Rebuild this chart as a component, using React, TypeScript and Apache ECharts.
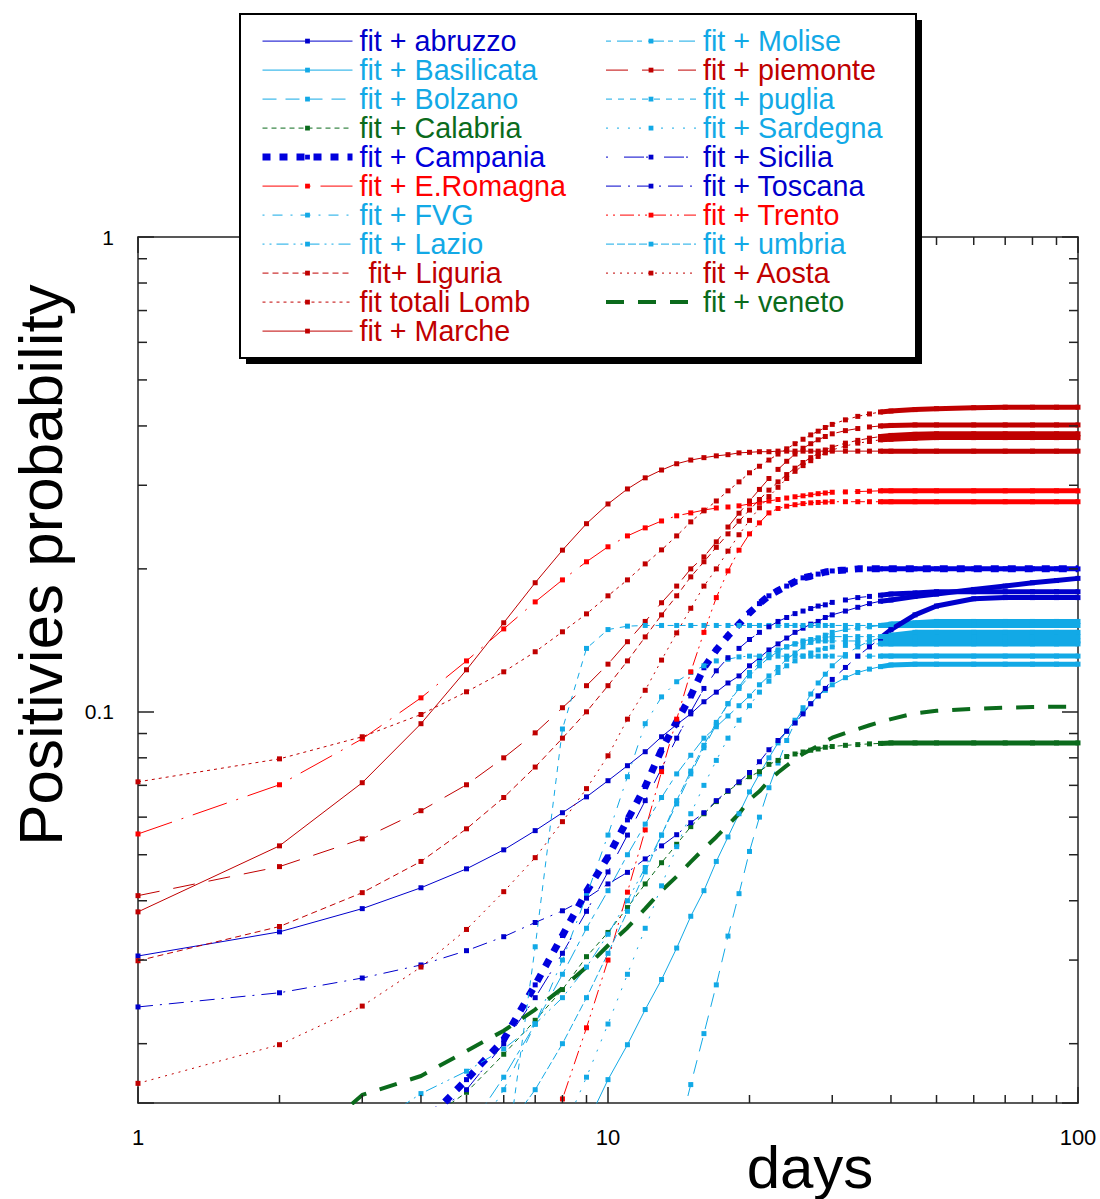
import React, { useEffect, useRef } from "react";
import * as echarts from "echarts";

// ---------------- data ----------------
const DAYS = [1, 2, 3, 4, 5, 6, 7, 8, 9, 10, 11, 12, 13, 14, 15, 16, 17, 18, 19, 20, 21, 22, 23, 24, 25, 26, 27, 28, 29, 30, 32, 34, 36, 38, 40, 45, 50, 60, 70, 80, 90, 100];
const N = null;

const ABRUZZO = [.0306, .0344, .0385, .0426, .0467, .0512, .0562, .0613, .0662, .0716,
  .077, .0824, .0886, .094, .099, .105, .110, .115, .119, .125,
  .130, .135, .139, .143, .147, .150, .153, .155, .158, .160,
  .163, .166, .169, .171, .172, .175, .177, .181, .184, .187, .189, .191];
const BASILICATA = [N, N, N, N, N, N, N, N, .0135, .0168,
  .0199, .0236, .0273, .0318, .0371, .042, .0484, .0545, .061, .0678,
  .074, .080, .086, .091, .096, .100, .104, .108, .111, .114,
  .118, .121, .123, .1245, .1255, .126, .126, .126, .126, .126, .126, .126];
const BOLZANO = [N, N, N, N, N, N, N, N, N, N,
  N, N, N, .0125, .0164, .021, .0266, .0337, .0414, .0508,
  .060, .0692, .078, .087, .095, .102, .109, .115, .120, .125,
  .132, .137, .141, .143, .145, .147, .147, .147, .147, .147, .147, .147];
const CALABRIA = [N, N, N, .0135, .0158, .019, .0224, .026, .0305, .0343,
  .0387, .0434, .0481, .0526, .0573, .061, .0647, .068, .0709, .073,
  .0748, .0775, .079, .0805, .0815, .0823, .083, .0835, .0842, .0845,
  .085, .0853, .0856, .0858, .086, .086, .086, .086, .086, .086, .086, .086];
const CAMPANIA = [N, N, N, .0134, .0168, .0204, .0266, .0338, .0418, .0495,
  .0592, .0696, .0832, .0953, .108, .1238, .135, .1445, .153, .1616,
  .169, .1755, .180, .184, .188, .1915, .193, .195, .197, .198,
  .199, .2, .2, .2, .2, .2, .2, .2, .2, .2, .2, .2];
const EROMAGNA = [.0553, .0702, .0877, .107, .128, .1495, .1704, .1896, .207, .2226,
  .2347, .244, .2523, .2587, .2624, .266, .2687, .27, .2715, .274,
  .276, .278, .28, .282, .2837, .285, .2865, .288, .289, .29,
  .2905, .291, .2915, .292, .292, .292, .292, .292, .292, .292, .292, .292];
const FVG = [N, N, N, N, .012, .016, .022, .030, .041, .055,
  .073, .0944, .1075, .1157, .121, .125, .128, .129, .1305, .131,
  .131, .131, .131, .131, .131, .131, .131, .131, .131, .131,
  .131, .131, .131, .131, .131, .131, .131, .131, .131, .131, .131, .131];
const LAZIO = [N, N, .013, .0157, .0175, .0195, .022, .025, .029, .034,
  .040, .047, .055, .064, .074, .084, .094, .104, .113, .121,
  .127, .132, .135, .137, .139, .140, .1405, .141, .141, .141,
  .141, .141, .141, .141, .141, .141, .141, .141, .141, .141, .141, .141];
const LIGURIA = [.0299, .0353, .0416, .0484, .0567, .066, .0765, .088, .100, .1135,
  .128, .1438, .160, .1755, .1924, .207, .222, .237, .252, .266,
  .280, .293, .305, .316, .326, .335, .343, .350, .356, .361,
  .368, .373, .377, .380, .382, .384, .385, .385, .385, .385, .385, .385];
const LOMB = [.0712, .0796, .0886, .0987, .1102, .1214, .1338, .1474, .1608, .1755,
  .1896, .2049, .2193, .2347, .2512, .265, .278, .292, .305, .3187,
  .329, .339, .349, .358, .367, .375, .383, .390, .397, .403,
  .412, .419, .424, .428, .430, .433, .435, .437, .438, .438, .438, .438];
const MARCHE = [.0379, .0522, .0709, .0944, .1226, .154, .187, .219, .249, .274,
  .2947, .311, .323, .333, .339, .343, .346, .348, .351, .352,
  .353, .353, .354, .354, .354, .354, .354, .354, .354, .354,
  .354, .354, .354, .354, .354, .354, .354, .354, .354, .354, .354, .354];
const MOLISE = [N, N, N, N, .013, .017, .022, .028, .035, .042,
  .050, .058, .066, .074, .081, .088, .093, .098, .103, .108,
  .114, .119, .124, .129, .133, .137, .140, .143, .145, .147,
  .149, .150, .151, .152, .153, .154, .155, .155, .155, .155, .155, .155];
const PIEMONTE = [.041, .0472, .054, .0619, .0702, .080, .0903, .102, .1135, .126,
  .1405, .155, .1697, .184, .200, .212, .228, .245, .262, .278,
  .294, .310, .324, .337, .349, .359, .367, .374, .380, .385,
  .391, .395, .398, .400, .401, .402, .402, .402, .402, .402, .402, .402];
const PUGLIA = [N, N, N, N, N, .0105, .032, .092, .136, .149,
  .1515, .152, .152, .152, .152, .152, .152, .152, .152, .152,
  .152, .152, .152, .152, .152, .152, .152, .152, .152, .152,
  .152, .152, .152, .152, .152, .152, .152, .152, .152, .152, .152, .152];
const SARDEGNA = [N, N, N, N, N, N, N, .013, .017, .022,
  .028, .035, .043, .052, .061, .070, .079, .088, .096, .103,
  .110, .116, .121, .125, .128, .131, .133, .135, .136, .137,
  .138, .139, .139, .139, .139, .139, .139, .139, .139, .139, .139, .139];
const SICILIA = [N, N, N, .0135, .016, .020, .025, .031, .038, .046,
  .055, .065, .076, .088, .100, .112, .122, .130, .136, .142,
  .147, .151, .155, .158, .161, .163, .165, .167, .168, .170,
  .172, .174, .175, .176, .177, .178, .179, .179, .179, .179, .179, .179];
const TOSCANA = [.0239, .0256, .0275, .0293, .0314, .0336, .036, .0381, .0405, .0434,
  .0459, .049, .0522, .0551, .0584, .0613, .065, .0682, .0712, .0745,
  .0785, .0832, .087, .091, .0947, .099, .104, .108, .112, .117,
  .124, .131, .137, .143, .149, .160, .167, .173, .174, .174, .174, .174];
const TRENTO = [N, N, N, N, N, N, .011, .0153, .0216, .030,
  .0417, .0564, .0748, .0965, .1214, .147, .174, .198, .219, .237,
  .250, .2624, .268, .271, .273, .2745, .2755, .276, .2765, .277,
  .277, .277, .277, .277, .277, .277, .277, .277, .277, .277, .277, .277];
const UMBRIA = [N, N, N, N, N, .013, .016, .020, .025, .031,
  .038, .046, .055, .065, .075, .085, .095, .104, .112, .119,
  .125, .130, .134, .137, .139, .141, .142, .143, .1435, .144,
  .144, .144, .144, .144, .144, .144, .144, .144, .144, .144, .144, .144];
const AOSTA = [.0165, .0199, .024, .029, .0348, .0418, .0493, .0587, .0689, .0808,
  .0965, .111, .1285, .1466, .1652, .184, .200, .218, .236, .253,
  .269, .284, .297, .310, .321, .330, .338, .345, .351, .356,
  .363, .368, .371, .374, .375, .377, .378, .378, .378, .378, .378, .378];
const VENETO = [N, .011, .0156, .0171, .0193, .0213, .0236, .0262, .029, .0322,
  .0351, .0385, .042, .045, .0483, .0515, .0545, .0578, .061, .0653,
  .068, .0716, .0745, .077, .0795, .0816, .0832, .0848, .0866, .0882,
  .0902, .092, .0937, .0952, .0965, .0993, .1005, .1015, .102, .1023, .1025, .1025];

const X_MINOR_TICKS = [2, 3, 4, 5, 6, 7, 8, 9, 20, 30, 40, 50, 60, 70, 80, 90];
const Y_MINOR_TICKS = [0.02, 0.03, 0.04, 0.05, 0.06, 0.07, 0.08, 0.09, 0.2, 0.3, 0.4, 0.5, 0.6, 0.7, 0.8, 0.9];
const Y_LABELS = ["1", "0.1"];

// ---------------- styles ----------------
const FONT = '"Liberation Sans", Arial, Helvetica, sans-serif';
const AXIS_COLOR = "#222";
const BLUE = "#0000cc";
const LBLUE = "#12a9e6";
const DRED = "#c00000";
const RED = "#ff0000";
const GREEN = "#0b6b1c";
const X_MIN = 1, X_MAX = 100, Y_MIN = 0.015, Y_MAX = 1;
const DENSE_FROM = 38;
const MINOR_LEN = 8;

type Def = { name: string; color: string; dash: any; width?: number; values: (number | null)[]; col: number; indent?: number; noMarker?: boolean };

const DEFS: Def[] = [
  { name: "fit + abruzzo", color: BLUE, dash: "solid", values: ABRUZZO, col: 0 },
  { name: "fit + Basilicata", color: LBLUE, dash: "solid", values: BASILICATA, col: 0 },
  { name: "fit + Bolzano", color: LBLUE, dash: [14, 9], values: BOLZANO, col: 0 },
  { name: "fit + Calabria", color: GREEN, dash: [5, 4], values: CALABRIA, col: 0 },
  { name: "fit + Campania", color: "#0000dd", dash: [8, 9], width: 7, values: CAMPANIA, col: 0 },
  { name: "fit + E.Romagna", color: RED, dash: [36, 10, 2, 10], values: EROMAGNA, col: 0 },
  { name: "fit + FVG", color: LBLUE, dash: [2, 8, 10, 8], values: FVG, col: 0 },
  { name: "fit + Lazio", color: LBLUE, dash: [2, 5, 2, 5, 12, 5], values: LAZIO, col: 0 },
  { name: "fit+ Liguria", color: DRED, dash: [6, 4], values: LIGURIA, col: 0, indent: 9 },
  { name: "fit totali Lomb", color: DRED, dash: [3, 4], values: LOMB, col: 0 },
  { name: "fit + Marche", color: DRED, dash: "solid", values: MARCHE, col: 0 },
  { name: "fit + Molise", color: LBLUE, dash: [5, 6, 16, 4], values: MOLISE, col: 1 },
  { name: "fit + piemonte", color: DRED, dash: [22, 14], values: PIEMONTE, col: 1 },
  { name: "fit + puglia", color: LBLUE, dash: [6, 6], values: PUGLIA, col: 1 },
  { name: "fit + Sardegna", color: LBLUE, dash: [2, 9], values: SARDEGNA, col: 1 },
  { name: "fit + Sicilia", color: BLUE, dash: [2, 16, 20, 2], values: SICILIA, col: 1 },
  { name: "fit + Toscana", color: BLUE, dash: [15, 7, 2, 7], values: TOSCANA, col: 1 },
  { name: "fit + Trento", color: RED, dash: [2, 5, 2, 5, 14, 4], values: TRENTO, col: 1 },
  { name: "fit + umbria", color: LBLUE, dash: [8, 3], values: UMBRIA, col: 1 },
  { name: "fit + Aosta", color: DRED, dash: [2, 5], values: AOSTA, col: 1 },
  { name: "fit + veneto", color: GREEN, dash: [18, 14], width: 4, values: VENETO, col: 1, noMarker: true },
];

function buildOption(): any {
  const series: any[] = [];
  DEFS.forEach((d) => {
    series.push({
      type: "line",
      name: d.name,
      xAxisIndex: 0,
      yAxisIndex: 0,
      data: DAYS.map((day, i) => [day, d.values[i]]),
      symbol: d.noMarker ? "none" : "rect",
      symbolSize: 5,
      showSymbol: !d.noMarker,
      connectNulls: false,
      clip: true,
      silent: true,
      z: 2,
      lineStyle: { color: d.color, width: d.width ?? 1, type: d.dash },
      itemStyle: { color: d.color },
      emphasis: { disabled: true },
    });
    if (!d.noMarker) {
      series.push({
        type: "line",
        name: d.name + " dense",
        xAxisIndex: 0,
        yAxisIndex: 0,
        data: DAYS.map((day, i) => [day, day >= DENSE_FROM ? d.values[i] : null]),
        symbol: "none",
        showSymbol: false,
        clip: true,
        silent: true,
        z: 2,
        lineStyle: { color: d.color, width: 5 },
        emphasis: { disabled: true },
      });
    }
  });

  const tickStyle = { stroke: AXIS_COLOR, lineWidth: 1.5 };
  series.push({
    type: "custom",
    name: "xminor",
    xAxisIndex: 0,
    yAxisIndex: 0,
    silent: true,
    z: 3,
    data: X_MINOR_TICKS.map((v) => [v, 0.5]),
    renderItem: (_p: any, api: any) => {
      const v = api.value(0);
      const b = api.coord([v, Y_MIN]);
      const t = api.coord([v, Y_MAX]);
      return {
        type: "group",
        children: [
          { type: "line", shape: { x1: b[0], y1: b[1], x2: b[0], y2: b[1] - MINOR_LEN }, style: tickStyle },
          { type: "line", shape: { x1: t[0], y1: t[1], x2: t[0], y2: t[1] + MINOR_LEN }, style: tickStyle },
        ],
      };
    },
  });
  series.push({
    type: "custom",
    name: "yminor",
    xAxisIndex: 0,
    yAxisIndex: 0,
    silent: true,
    z: 3,
    data: Y_MINOR_TICKS.map((v) => [2, v]),
    renderItem: (_p: any, api: any) => {
      const v = api.value(1);
      const l = api.coord([X_MIN, v]);
      const r = api.coord([X_MAX, v]);
      return {
        type: "group",
        children: [
          { type: "line", shape: { x1: l[0], y1: l[1], x2: l[0] + MINOR_LEN + 1, y2: l[1] }, style: tickStyle },
          { type: "line", shape: { x1: r[0], y1: r[1], x2: r[0] - MINOR_LEN - 1, y2: r[1] }, style: tickStyle },
        ],
      };
    },
  });

  const axisLine = { show: true, lineStyle: { color: AXIS_COLOR, width: 1.5 } };
  const axisTick = { show: true, inside: true, length: 16, lineStyle: { color: AXIS_COLOR, width: 1.5 } };
  const labelStyle = { fontSize: 22, fontFamily: FONT, color: "#000" };

  const legendItems = (col: number) =>
    DEFS.filter((d) => d.col === col).map((d) => ({
      name: d.name,
      textStyle: { color: d.color, padding: [0, 0, 0, 2 + (d.indent ?? 0)] },
      lineStyle: { color: d.color, width: d.width ?? 1, type: d.dash },
      itemStyle: { color: d.color, opacity: d.noMarker ? 0 : 1 },
    }));
  const legendBase = {
    orient: "vertical",
    top: 26.6,
    padding: 0,
    itemWidth: 90,
    itemHeight: 6,
    itemGap: 0,
    selectedMode: false,
    z: 10,
    textStyle: { fontSize: 28.7, fontFamily: FONT },
  };

  return {
    animation: false,
    backgroundColor: "#ffffff",
    grid: { left: 138, right: 22, top: 237, bottom: 96, containLabel: false, outerBoundsMode: "none" },
    xAxis: [
      {
        type: "log", logBase: 10, min: X_MIN, max: X_MAX, position: "bottom",
        axisLine, axisTick, splitLine: { show: false }, minorTick: { show: false },
        axisLabel: { ...labelStyle, margin: 23 },
      },
      {
        type: "log", logBase: 10, min: X_MIN, max: X_MAX, position: "top",
        axisLine, axisTick, splitLine: { show: false }, axisLabel: { show: false },
      },
    ],
    yAxis: [
      {
        type: "log", logBase: 10, min: Y_MIN, max: Y_MAX, position: "left",
        axisLine, axisTick, splitLine: { show: false }, minorTick: { show: false },
        axisLabel: {
          ...labelStyle, fontSize: 21, margin: 24,
          formatter: (v: number) => {
            if (Math.abs(v - 1) < 1e-6) return Y_LABELS[0];
            if (Math.abs(v - 0.1) < 1e-7) return Y_LABELS[1];
            return "";
          },
        },
      },
      {
        type: "log", logBase: 10, min: Y_MIN, max: Y_MAX, position: "right",
        axisLine, axisTick, splitLine: { show: false }, axisLabel: { show: false },
      },
    ],
    legend: [
      { ...legendBase, left: 259, data: legendItems(0) },
      { ...legendBase, left: 604, data: legendItems(1) },
    ],
    graphic: [
      { type: "rect", silent: true, z: 5, shape: { x: 246, y: 20, width: 676, height: 344 }, style: { fill: "#000" } },
      { type: "rect", silent: true, z: 6, shape: { x: 240, y: 14, width: 676, height: 344 }, style: { fill: "#fff", stroke: "#000", lineWidth: 2 } },
      {
        type: "text", silent: true, z: 6, x: 40, y: 565, rotation: Math.PI / 2,
        style: { text: "Positivies probability", fill: "#000", fontSize: 62, fontFamily: FONT, align: "center", verticalAlign: "middle" },
      },
      {
        type: "text", silent: true, z: 6, x: 810, y: 1167,
        style: { text: "days", fill: "#000", fontSize: 60, fontFamily: FONT, align: "center", verticalAlign: "middle" },
      },
    ],
    series,
  };
}

export default function App() {
  const ref = useRef<HTMLDivElement>(null);
  useEffect(() => {
    if (!ref.current) return;
    const chart = echarts.init(ref.current, undefined, { renderer: "svg" });
    chart.setOption(buildOption());
    return () => chart.dispose();
  }, []);
  return (
    <div
      ref={ref}
      style={{ position: "absolute", left: 0, top: 0, width: 1100, height: 1199, background: "#fff" }}
    />
  );
}
